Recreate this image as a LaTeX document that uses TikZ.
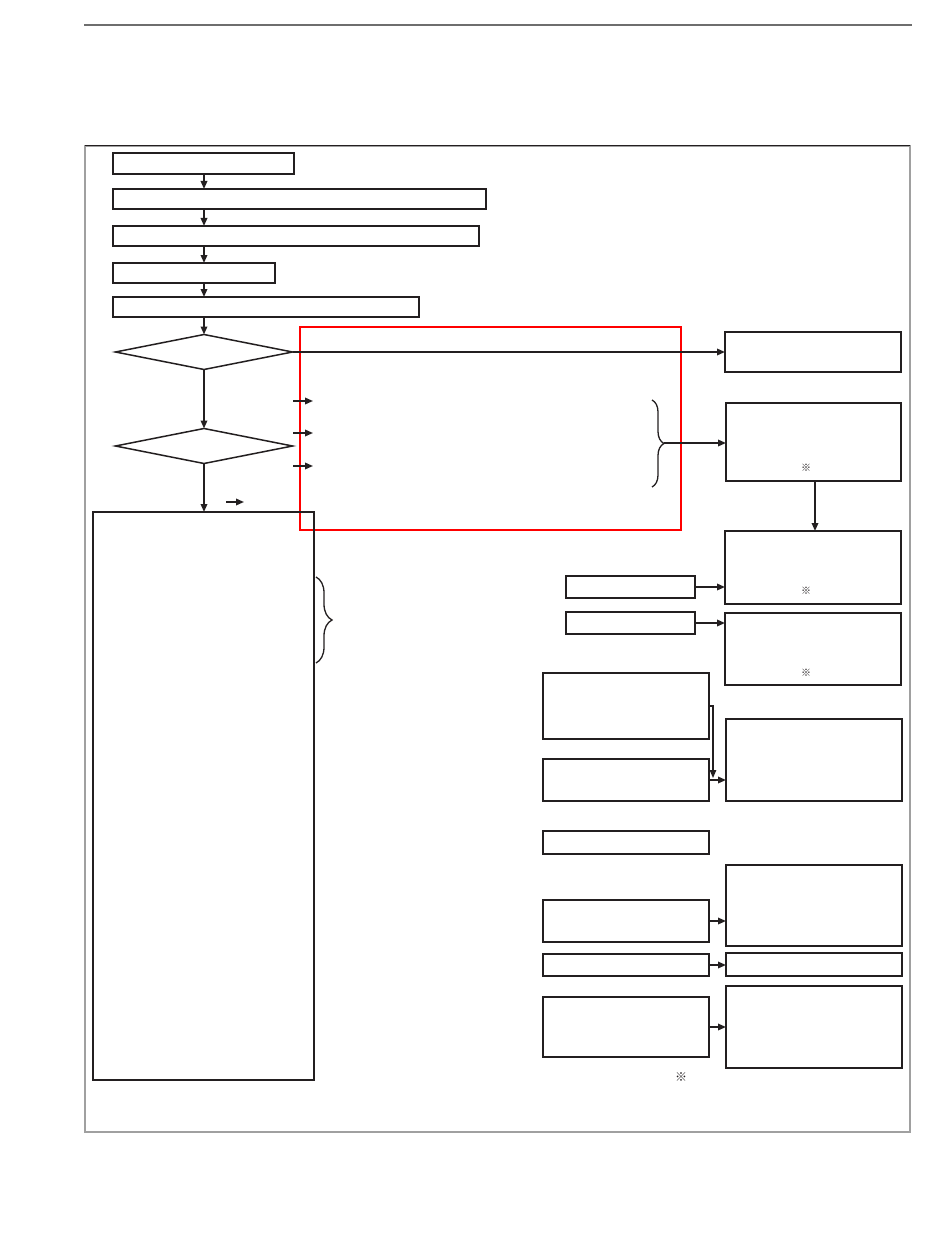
\documentclass[tikz,border=0pt]{standalone}
\usepackage{fontspec}
\newfontfamily\cjk{Noto Sans CJK JP}
\usepackage{tikz}
\usetikzlibrary{arrows.meta,shapes.geometric,decorations.pathreplacing}

\definecolor{ink}{RGB}{35,31,32}
\definecolor{rule}{RGB}{110,110,110}
\definecolor{frame}{RGB}{160,160,160}

\tikzset{
    box/.style={draw=ink,line width=1.7pt,inner sep=0pt,outer sep=0pt},
    thinbox/.style={box,line width=1.4pt},
    decision/.style={diamond,draw=ink,line width=1.5pt,inner sep=0pt,outer sep=0pt,minimum width=177pt,minimum height=35pt},
    note/.style={font=\cjk\fontsize{10}{10}\selectfont,text=ink,inner sep=0pt},
    bracket/.style={decorate,decoration={brace,amplitude=#1},draw=ink,line width=1.3pt}
}

\begin{document}
\begin{tikzpicture}[x=1pt,y=-1pt]

        \useasboundingbox (0,0) rectangle (950,1241);
        \draw[rule,line width=2pt] (84,25) -- (912,25);
        \draw[frame,line width=1.3pt] (85,146) rectangle (910,1132);
        \draw[ink,line width=1pt] (85,146) -- (910,146);
        \draw[red,line width=2pt] (300,327) rectangle (681,530);

        \begin{scope}[every node/.style={box}]
            \node[minimum width=181pt,minimum height=21pt] (s1) at (203.5,163.5) {};
            \node[thinbox,minimum width=373pt,minimum height=20pt] (s2) at (299.5,199) {};
            \node[minimum width=366pt,minimum height=20pt] (s3) at (296,236) {};
            \node[thinbox,minimum width=162pt,minimum height=20pt] (s4) at (194,273) {};
            \node[minimum width=306pt,minimum height=20pt] (s5) at (266,307) {};
            \node[thinbox,minimum width=221pt,minimum height=568pt] (list) at (203.5,796) {};

            \node[minimum width=176pt,minimum height=40pt] (r1) at (813,352) {};
            \node[thinbox,minimum width=175pt,minimum height=78pt] (r2) at (813.5,442) {};
            \node[minimum width=176pt,minimum height=73pt] (r3) at (813,567.5) {};
            \node[minimum width=176pt,minimum height=72pt] (r4) at (813,649) {};
            \node[minimum width=176pt,minimum height=82pt] (r5) at (814,760) {};
            \node[minimum width=176pt,minimum height=81pt] (r6) at (814,905.5) {};
            \node[minimum width=176pt,minimum height=23pt] (r7) at (814,964.5) {};
            \node[minimum width=176pt,minimum height=82pt] (r8) at (814,1027) {};

            \node[minimum width=129pt,minimum height=22pt] (m1) at (630.5,587) {};
            \node[minimum width=129pt,minimum height=22pt] (m2) at (630.5,623) {};
            \node[minimum width=166pt,minimum height=66pt] (m3) at (626,706) {};
            \node[minimum width=166pt,minimum height=42pt] (m4) at (626,780) {};
            \node[minimum width=166pt,minimum height=23pt] (m5) at (626,842.5) {};
            \node[minimum width=166pt,minimum height=42pt] (m6) at (626,921) {};
            \node[minimum width=166pt,minimum height=22pt] (m7) at (626,965) {};
            \node[minimum width=166pt,minimum height=60pt] (m8) at (626,1027) {};
        \end{scope}

        \node[decision] (d1) at (204,352) {};
        \node[decision] (d2) at (204,446) {};

        \node[note] (n1) at (806,468) {※};
        \node[note] (n2) at (806,591) {※};
        \node[note] (n3) at (806,673) {※};
        \node[note,font=\cjk\fontsize{12}{12}\selectfont] (n4) at (681,1077) {※};

        \coordinate (a1) at (293,401);
        \coordinate (a2) at (293,433);
        \coordinate (a3) at (293,466);
        \coordinate (a4) at (226,502);
        \coordinate (j1) at (713,778);
        \coordinate (bt) at (652,400);
        \coordinate (bb) at (652,487);
        \coordinate (bm) at (664,443);
        \coordinate (lt) at (316,577);
        \coordinate (lb) at (316,663);

        \draw[bracket=12pt] (bt) -- (bb);
        \draw[bracket=16pt] (lt) -- (lb);

        \begin{scope}[every edge/.style={draw=ink,line width=1.7pt},>={Stealth[ink,length=8pt,width=6.5pt,inset=0pt]}]
            \path [->] (s1.south -| d1) edge (s2.north -| d1);
            \path [->] (s2.south -| d1) edge (s3.north -| d1);
            \path [->] (s3.south -| d1) edge (s4.north -| d1);
            \path [->] (s4.south -| d1) edge (s5.north -| d1);
            \path [->] (s5.south -| d1) edge (d1.north);
            \path [->] (d1.south) edge (d2.north);
            \path [->] (d2.south) edge (list.north -| d2);
            \path [->] (d1.east) edge (r1.west);
            \path [->] (a1) edge ++(20,0);
            \path [->] (a2) edge ++(20,0);
            \path [->] (a3) edge ++(20,0);
            \path [->] (a4) edge ++(18,0);
            \path [->] (bm) edge (bm -| r2.west);
            \path [->] (r2.south -| 815,0) edge (r3.north -| 815,0);
            \path [->] (m1.east) edge (m1.east -| r3.west);
            \path [->] (m2.east) edge (m2.east -| r4.west);
            \draw [->,draw=ink,line width=1.2pt] (m3.east) -| (j1);
            \path [->] (m4.east) edge (m4.east -| r5.west);
            \path [->] (m6.east) edge (m6.east -| r6.west);
            \path [->] (m7.east) edge (m7.east -| r7.west);
            \path [->] (m8.east) edge (m8.east -| r8.west);
        \end{scope}

    \end{tikzpicture}
\end{document}
